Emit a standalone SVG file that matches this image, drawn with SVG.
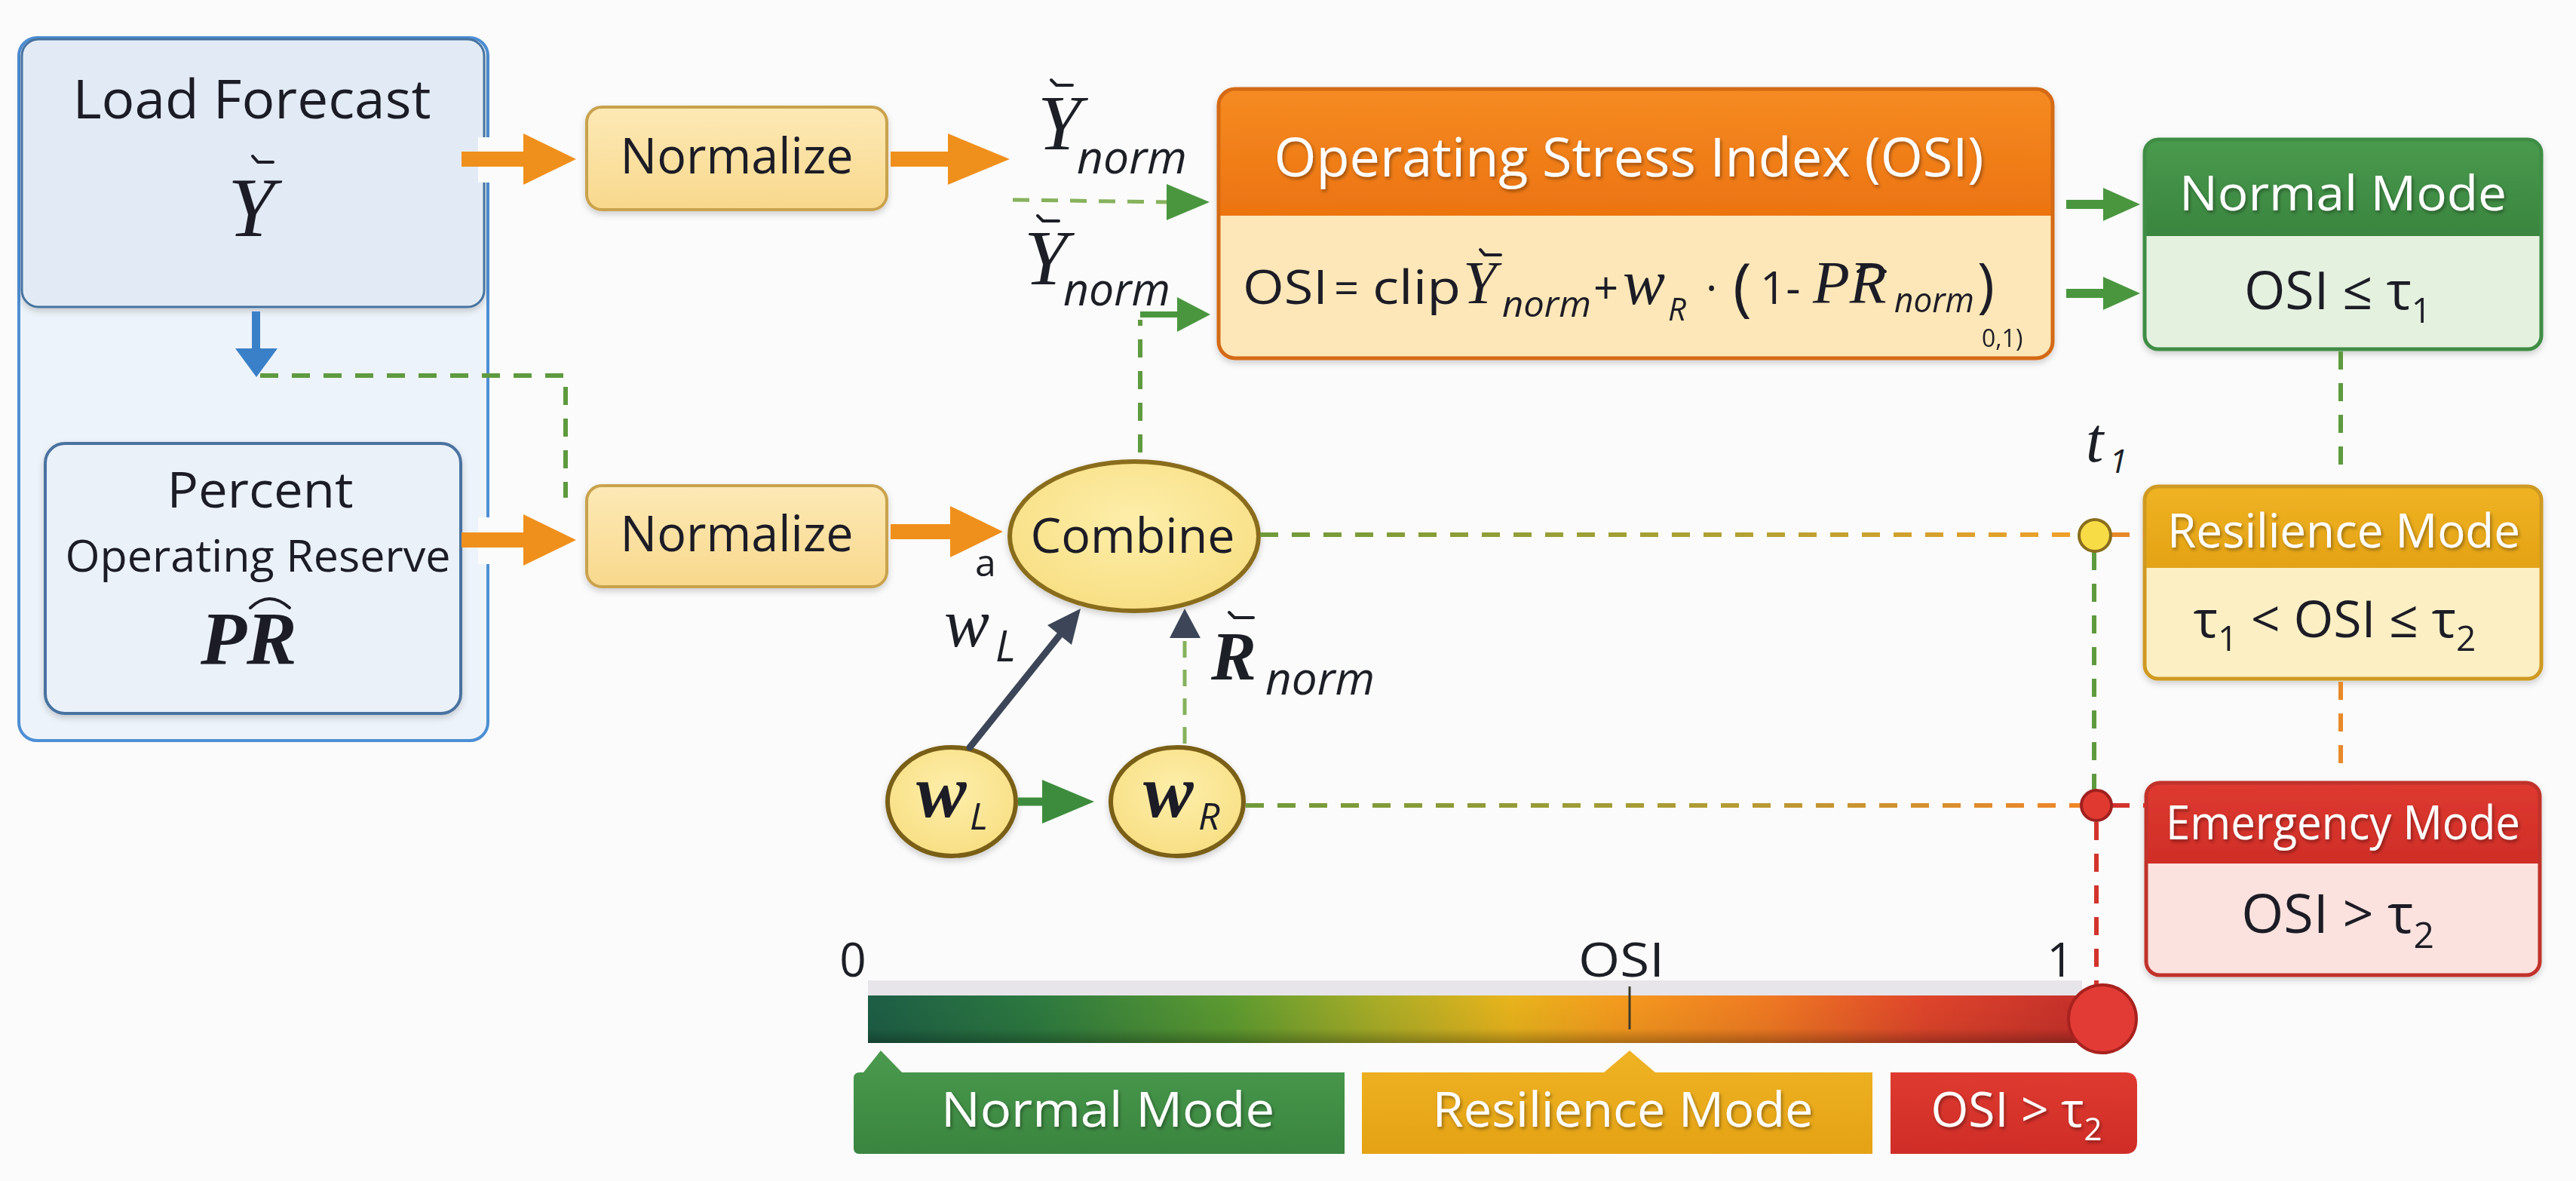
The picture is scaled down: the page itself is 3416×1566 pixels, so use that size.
<svg xmlns="http://www.w3.org/2000/svg" width="3416" height="1566" viewBox="0 0 3416 1566">
<defs>
<style>
.sans{font-family:"Open Sans","Noto Sans","DejaVu Sans",sans-serif;}
.serif{font-family:"Liberation Serif","DejaVu Serif",serif;font-style:italic;}
.isans{font-family:"Open Sans","Noto Sans",sans-serif;font-style:italic;}
.dk{fill:#1d1f27;}
.wt{fill:#ffffff;filter:url(#tsh);}
.dg{fill:none;stroke:#5e9a3e;stroke-width:6;stroke-dasharray:24 18;}
.dgl{fill:none;stroke:#86b25c;stroke-width:5;stroke-dasharray:22 16;}
.dor{fill:none;stroke:#e8892a;stroke-width:6;stroke-dasharray:24 18;}
.drd{fill:none;stroke:#d2342c;stroke-width:6;stroke-dasharray:24 18;}
.acc{fill:none;stroke:#1d1f27;stroke-width:4;stroke-linecap:round;stroke-linejoin:round;}
.org{fill:#f0901c;}
.grn{fill:#4a963f;}
.node{filter:url(#bsh);}
</style>
<filter id="tsh" x="-10%" y="-30%" width="120%" height="160%"><feDropShadow dx="2" dy="3" stdDeviation="2" flood-color="#000" flood-opacity="0.35"/></filter>
<filter id="bsh" x="-5%" y="-5%" width="110%" height="115%"><feDropShadow dx="0" dy="4" stdDeviation="4" flood-color="#000" flood-opacity="0.18"/></filter>
<linearGradient id="gNorm" x1="0" y1="0" x2="0" y2="1"><stop offset="0" stop-color="#fde9b6"/><stop offset="1" stop-color="#f8d88c"/></linearGradient>
<linearGradient id="gOrg" x1="0" y1="0" x2="0" y2="1"><stop offset="0" stop-color="#f58b22"/><stop offset="1" stop-color="#ec7310"/></linearGradient>
<linearGradient id="gGrn" x1="0" y1="0" x2="0" y2="1"><stop offset="0" stop-color="#4a9a4e"/><stop offset="1" stop-color="#3a853f"/></linearGradient>
<linearGradient id="gYel" x1="0" y1="0" x2="0" y2="1"><stop offset="0" stop-color="#efb324"/><stop offset="1" stop-color="#e4a214"/></linearGradient>
<linearGradient id="gRed" x1="0" y1="0" x2="0" y2="1"><stop offset="0" stop-color="#de3a30"/><stop offset="1" stop-color="#cf2d27"/></linearGradient>
<radialGradient id="gEll" cx="0.5" cy="0.4" r="0.6"><stop offset="0" stop-color="#fdeeaa"/><stop offset="1" stop-color="#f8df84"/></radialGradient>
<linearGradient id="gBar" x1="1151" y1="0" x2="2760" y2="0" gradientUnits="userSpaceOnUse">
<stop offset="0" stop-color="#1d5e46"/><stop offset="0.14" stop-color="#2d7a40"/><stop offset="0.3" stop-color="#5d9b30"/><stop offset="0.42" stop-color="#a9ad27"/><stop offset="0.53" stop-color="#e9b41c"/><stop offset="0.62" stop-color="#f59a1e"/><stop offset="0.74" stop-color="#f07a22"/><stop offset="0.87" stop-color="#df452b"/><stop offset="1" stop-color="#c6302a"/>
</linearGradient>
<linearGradient id="gBarSh" x1="0" y1="0" x2="0" y2="1"><stop offset="0" stop-color="#000" stop-opacity="0"/><stop offset="0.7" stop-color="#000" stop-opacity="0.05"/><stop offset="1" stop-color="#000" stop-opacity="0.3"/></linearGradient>
<linearGradient id="gGO1" x1="1671" y1="0" x2="2756" y2="0" gradientUnits="userSpaceOnUse"><stop offset="0" stop-color="#6f9a3a"/><stop offset="0.6" stop-color="#b4a232"/><stop offset="1" stop-color="#f0a028"/></linearGradient>
<linearGradient id="gGO2" x1="1652" y1="0" x2="2760" y2="0" gradientUnits="userSpaceOnUse"><stop offset="0" stop-color="#6f9a3a"/><stop offset="0.55" stop-color="#b09c34"/><stop offset="1" stop-color="#f0862a"/></linearGradient>
</defs>

<rect x="0" y="0" width="3416" height="1566" fill="#fbfbfb"/>

<g id="input-panel">
<rect x="25" y="50" width="622" height="932" rx="24" fill="#edf3fa" stroke="#4d8fd4" stroke-width="4"/>
</g>
<g id="load-forecast" class="node">
<rect x="29" y="52" width="613" height="355" rx="22" fill="#e2ebf5" stroke="#47739f" stroke-width="3"/>
<text x="334" y="157" class="sans dk" font-size="72" text-anchor="middle" textLength="475" lengthAdjust="spacingAndGlyphs">Load Forecast</text>
<text x="302" y="313" class="serif dk" font-size="112">Y</text>
<path class="acc" d="M335,207 L342,215 L362,215"/>
</g>
<g id="percent-reserve" class="node">
<rect x="60" y="588" width="551" height="358" rx="26" fill="#eaf1f9" stroke="#4a72a0" stroke-width="4"/>
<text x="345" y="673" class="sans dk" font-size="66" text-anchor="middle" textLength="247" lengthAdjust="spacingAndGlyphs">Percent</text>
<text x="342" y="758" class="sans dk" font-size="58" text-anchor="middle" textLength="511" lengthAdjust="spacingAndGlyphs">Operating Reserve</text>
<text x="266" y="880" class="serif dk" font-size="100" font-weight="bold">PR</text>
<path class="acc" d="M332,806 Q357,782 384,806"/>
</g>

<g id="normalize-1" class="node">
<rect x="778" y="142" width="398" height="136" rx="20" fill="url(#gNorm)" stroke="#c9a24e" stroke-width="4"/>
<text x="977" y="230" class="sans dk" font-size="66" text-anchor="middle" textLength="309" lengthAdjust="spacingAndGlyphs">Normalize</text>
</g>
<g id="normalize-2" class="node">
<rect x="778" y="644" width="398" height="134" rx="20" fill="url(#gNorm)" stroke="#c9a24e" stroke-width="4"/>
<text x="977" y="731" class="sans dk" font-size="66" text-anchor="middle" textLength="309" lengthAdjust="spacingAndGlyphs">Normalize</text>
</g>

<g id="combine" class="node">
<ellipse cx="1504" cy="711" rx="165" ry="99" fill="url(#gEll)" stroke="#8a6d1c" stroke-width="6"/>
<text x="1502" y="733" class="sans dk" font-size="64" text-anchor="middle" textLength="271" lengthAdjust="spacingAndGlyphs">Combine</text>
</g>

<g id="wL" class="node">
<ellipse cx="1262" cy="1063" rx="85" ry="72" fill="url(#gEll)" stroke="#7a5f18" stroke-width="6"/>
<text x="1215" y="1083" class="serif dk" font-size="100" font-weight="bold">w</text>
<text x="1286" y="1100" class="isans dk" font-size="50">L</text>
</g>
<g id="wR" class="node">
<ellipse cx="1561" cy="1063" rx="88" ry="72" fill="url(#gEll)" stroke="#7a5f18" stroke-width="6"/>
<text x="1516" y="1083" class="serif dk" font-size="100" font-weight="bold">w</text>
<text x="1589" y="1100" class="isans dk" font-size="50">R</text>
</g>

<g id="osi" class="node">
<rect x="1616" y="118" width="1106" height="357" rx="22" fill="#fde7b8"/>
<path d="M1616,286 V140 Q1616,118 1638,118 H2700 Q2722,118 2722,140 V286 Z" fill="url(#gOrg)"/>
<rect x="1616" y="118" width="1106" height="357" rx="22" fill="none" stroke="#d46a12" stroke-width="5"/>
<text x="2160" y="234" class="sans wt" font-size="72" text-anchor="middle" textLength="941" lengthAdjust="spacingAndGlyphs">Operating Stress Index (OSI)</text>
<text x="1648" y="403" class="sans dk" font-size="62" textLength="113" lengthAdjust="spacingAndGlyphs">OSI</text>
<text x="1769" y="403" class="sans dk" font-size="58">=</text>
<text x="1820" y="403" class="sans dk" font-size="62" textLength="117" lengthAdjust="spacingAndGlyphs">clip</text>
<text x="1940" y="402" class="serif dk" font-size="80">Y</text>
<path class="acc" d="M1963,331 L1969,338 L1990,338"/>
<text x="1992" y="420" class="isans dk" font-size="48" textLength="118" lengthAdjust="spacingAndGlyphs">norm</text>
<text x="2113" y="403" class="sans dk" font-size="58">+</text>
<text x="2152" y="403" class="serif dk" font-size="84">w</text>
<text x="2212" y="425" class="isans dk" font-size="42">R</text>
<text x="2262" y="403" class="sans dk" font-size="58">·</text>
<text x="2298" y="410" class="sans dk" font-size="84">(</text>
<text x="2334" y="403" class="sans dk" font-size="60">1-</text>
<text x="2404" y="402" class="serif dk" font-size="80">PR</text>
<path class="acc" d="M2464,360 Q2482,346 2500,360"/>
<text x="2512" y="414" class="isans dk" font-size="46" textLength="106" lengthAdjust="spacingAndGlyphs">norm</text>
<text x="2622" y="406" class="sans dk" font-size="78">)</text>
<text x="2628" y="460" class="sans dk" font-size="32">0,1)</text>
</g>

<g id="normal-mode" class="node">
<rect x="2844" y="185" width="526" height="278" rx="18" fill="#e5f1df"/>
<path d="M2844,313 V203 Q2844,185 2862,185 H3352 Q3370,185 3370,203 V313 Z" fill="url(#gGrn)"/>
<rect x="2844" y="185" width="526" height="278" rx="18" fill="none" stroke="#3f8d45" stroke-width="5"/>
<text x="3107" y="279" class="sans wt" font-size="64" text-anchor="middle" textLength="434" lengthAdjust="spacingAndGlyphs">Normal Mode</text>
<text x="3100" y="410" class="sans dk" font-size="70" text-anchor="middle">OSI ≤ τ<tspan font-size="46" dy="18">1</tspan></text>
</g>
<g id="resilience-mode" class="node">
<rect x="2844" y="645" width="526" height="255" rx="18" fill="#fcefc4"/>
<path d="M2844,753 V663 Q2844,645 2862,645 H3352 Q3370,645 3370,663 V753 Z" fill="url(#gYel)"/>
<rect x="2844" y="645" width="526" height="255" rx="18" fill="none" stroke="#cf9a22" stroke-width="5"/>
<text x="3108" y="726" class="sans wt" font-size="62" text-anchor="middle" textLength="468" lengthAdjust="spacingAndGlyphs">Resilience Mode</text>
<text x="3096" y="845" class="sans dk" font-size="68" text-anchor="middle">τ<tspan font-size="46" dy="18">1</tspan><tspan dy="-18"> &lt; OSI ≤ τ</tspan><tspan font-size="46" dy="18">2</tspan></text>
</g>
<g id="emergency-mode" class="node">
<rect x="2846" y="1038" width="522" height="255" rx="18" fill="#fbe2de"/>
<path d="M2846,1145 V1056 Q2846,1038 2864,1038 H3350 Q3368,1038 3368,1056 V1145 Z" fill="url(#gRed)"/>
<rect x="2846" y="1038" width="522" height="255" rx="18" fill="none" stroke="#c0302a" stroke-width="5"/>
<text x="3107" y="1113" class="sans wt" font-size="62" text-anchor="middle" textLength="470" lengthAdjust="spacingAndGlyphs">Emergency Mode</text>
<text x="3100" y="1237" class="sans dk" font-size="72" text-anchor="middle">OSI &gt; τ<tspan font-size="48" dy="20">2</tspan></text>
</g>

<g id="osi-scale">
<rect x="1151" y="1300" width="1610" height="22" fill="#e7e5ea"/>
<rect x="1151" y="1320" width="1610" height="63" fill="url(#gBar)"/>
<rect x="1151" y="1320" width="1610" height="63" fill="url(#gBarSh)"/>
<line x1="2161" y1="1308" x2="2161" y2="1365" stroke="#3c3a2a" stroke-width="3"/>
<circle cx="2788" cy="1351" r="45" fill="#e23b35" stroke="#a8221f" stroke-width="4"/>
<text x="1131" y="1295" class="sans dk" font-size="62" text-anchor="middle">0</text>
<text x="2150" y="1295" class="sans dk" font-size="62" text-anchor="middle" textLength="114" lengthAdjust="spacingAndGlyphs">OSI</text>
<text x="2732" y="1295" class="sans dk" font-size="62" text-anchor="middle">1</text>
</g>
<g id="legend-normal">
<path d="M1132,1430 Q1132,1422 1140,1422 H1145 L1168,1393 L1196,1422 H1783 V1530 H1140 Q1132,1530 1132,1522 Z" fill="url(#gGrn)"/>
<text x="1469" y="1494" class="sans wt" font-size="64" text-anchor="middle" textLength="442" lengthAdjust="spacingAndGlyphs">Normal Mode</text>
</g>
<g id="legend-resilience">
<path d="M1806,1422 H2127 L2161,1393 L2195,1422 H2483 V1530 H1806 Z" fill="url(#gYel)"/>
<text x="2152" y="1494" class="sans wt" font-size="64" text-anchor="middle" textLength="505" lengthAdjust="spacingAndGlyphs">Resilience Mode</text>
</g>
<g id="legend-emergency">
<path d="M2507,1422 H2818 Q2834,1422 2834,1438 V1514 Q2834,1530 2818,1530 H2507 Z" fill="url(#gRed)"/>
<text x="2674" y="1494" class="sans wt" font-size="64" text-anchor="middle">OSI &gt; τ<tspan font-size="42" dy="18">2</tspan></text>
</g>

<g id="connectors">
<rect x="634" y="182" width="26" height="60" fill="#fbfbfb"/>
<rect x="634" y="686" width="26" height="62" fill="#fbfbfb"/>
<rect x="612" y="201" width="86" height="20" class="org"/>
<polygon points="694,177 764,211 694,245" class="org"/>
<rect x="1181" y="201" width="80" height="20" class="org"/>
<polygon points="1257,177 1339,211 1257,245" class="org"/>
<rect x="612" y="706" width="86" height="20" class="org"/>
<polygon points="694,682 764,716 694,750" class="org"/>
<rect x="1181" y="695" width="83" height="20" class="org"/>
<polygon points="1260,671 1330,705 1260,739" class="org"/>
<rect x="334" y="413" width="11" height="52" fill="#3a80c8"/>
<polygon points="312,462 368,462 340,500" fill="#3a80c8"/>
<path class="dg" d="M345,498 H750 V660"/>
<line x1="1343" y1="265" x2="1550" y2="268" class="dgl"/>
<polygon points="1547,244 1604,268 1547,292" class="grn"/>
<path class="dg" d="M1512,600 V424"/>
<line x1="1512" y1="417" x2="1566" y2="417" stroke="#4a963f" stroke-width="8"/>
<polygon points="1561,394 1605,417 1561,440" class="grn"/>
<rect x="2740" y="265" width="52" height="12" class="grn"/>
<polygon points="2789,249 2838,271 2789,293" class="grn"/>
<rect x="2740" y="383" width="52" height="12" class="grn"/>
<polygon points="2789,367 2838,389 2789,411" class="grn"/>
<line x1="3104" y1="466" x2="3104" y2="622" class="dg"/>
<line x1="3104" y1="904" x2="3104" y2="1018" class="dor"/>
<line x1="1671" y1="709" x2="2756" y2="709" fill="none" stroke="url(#gGO1)" stroke-width="6" stroke-dasharray="24 18"/>
<line x1="2800" y1="709" x2="2843" y2="709" class="dor" stroke-dasharray="18 10"/>
<line x1="2777" y1="732" x2="2777" y2="1047" class="dg"/>
<line x1="1652" y1="1068" x2="2760" y2="1068" fill="none" stroke="url(#gGO2)" stroke-width="6" stroke-dasharray="24 18"/>
<line x1="2800" y1="1068" x2="2846" y2="1068" class="drd" stroke-dasharray="18 10"/>
<line x1="2780" y1="1090" x2="2780" y2="1305" class="drd"/>
<circle cx="2778" cy="710" r="21" fill="#f7dc45" stroke="#8a6d1c" stroke-width="4"/>
<circle cx="2780" cy="1068" r="20" fill="#e03a30" stroke="#a02020" stroke-width="4"/>
<line x1="1286" y1="991" x2="1407" y2="840" stroke="#3c4658" stroke-width="9" stroke-linecap="round"/>
<polygon points="1433,807 1421,855 1389,829" fill="#3c4658"/>
<line x1="1571" y1="986" x2="1571" y2="848" class="dgl"/>
<polygon points="1571,807 1592,846 1551,846" fill="#3c4658"/>
<line x1="1350" y1="1063" x2="1386" y2="1063" stroke="#3d8c3d" stroke-width="11"/>
<polygon points="1382,1034 1451,1063 1382,1092" fill="#3d8c3d"/>
</g>

<g id="labels">
<text x="1376" y="198" class="serif dk" font-size="104">Y</text>
<path class="acc" d="M1394,106 L1401,113 L1422,113"/>
<text x="1428" y="230" class="isans dk" font-size="60" textLength="146" lengthAdjust="spacingAndGlyphs">norm</text>
<text x="1358" y="377" class="serif dk" font-size="104">Y</text>
<path class="acc" d="M1376,286 L1383,293 L1404,293"/>
<text x="1410" y="405" class="isans dk" font-size="60" textLength="142" lengthAdjust="spacingAndGlyphs">norm</text>
<text x="1293" y="764" class="sans dk" font-size="50">a</text>
<text x="1252" y="857" class="serif dk" font-size="90">w</text>
<text x="1320" y="877" class="isans dk" font-size="56">L</text>
<text x="1606" y="901" class="serif dk" font-size="90" font-weight="bold">R</text>
<path class="acc" d="M1630,812 L1637,819 L1662,819"/>
<text x="1678" y="921" class="isans dk" font-size="60" textLength="145" lengthAdjust="spacingAndGlyphs">norm</text>
<text x="2766" y="612" class="serif dk" font-size="84">t</text>
<text x="2797" y="627" class="isans dk" font-size="44">1</text>
</g>
</svg>
